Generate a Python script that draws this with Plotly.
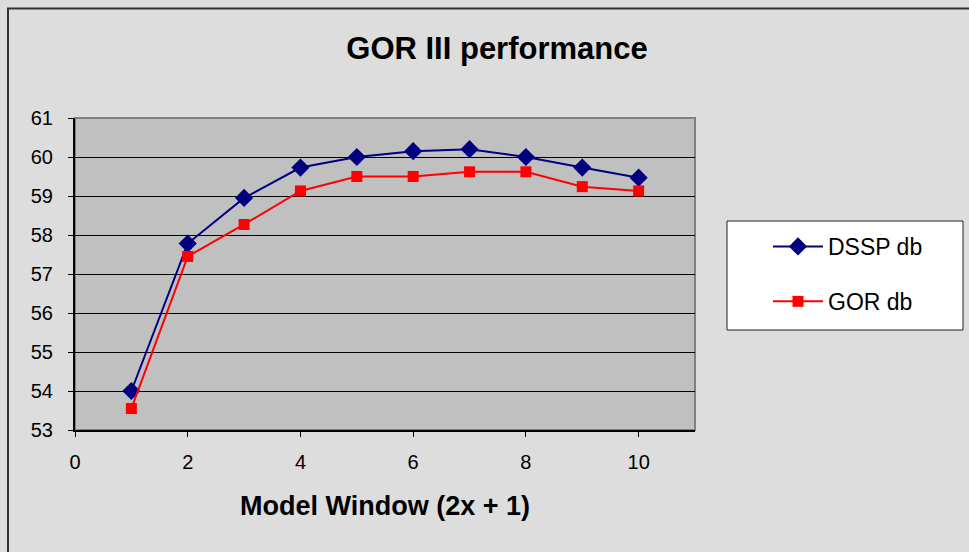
import plotly.graph_objects as go

window = [1, 2, 3, 4, 5, 6, 7, 8, 9, 10]
dssp_db = [54.0, 57.78, 58.95, 59.73, 60.0, 60.15, 60.2, 60.0, 59.73, 59.47]
gor_db = [53.55, 57.45, 58.27, 59.13, 59.5, 59.5, 59.62, 59.62, 59.24, 59.13]
x_ticks = [0, 2, 4, 6, 8, 10]
y_ticks = [53, 54, 55, 56, 57, 58, 59, 60, 61]

FONT = "Liberation Sans, Arial, sans-serif"

fig = go.Figure()
fig.add_trace(go.Scatter(
    x=window, y=dssp_db, name="DSSP db", mode="lines+markers",
    line=dict(color="#000080", width=2),
    marker=dict(symbol="diamond", size=14, color="#000080"),
    legendgroup="a",
))
fig.add_trace(go.Scatter(
    x=window, y=gor_db, name="GOR db", mode="lines+markers",
    line=dict(color="#ff0000", width=2),
    marker=dict(symbol="square", size=11, color="#ff0000"),
    legendgroup="b",
))

L, R, T, B = 75, 274, 118, 122
W, H = 969, 552
pw, ph = W - L - R, H - T - B

def px2x(px):
    return (px - L) / pw

def py2y(py):
    return (H - B - py) / ph

fig.update_layout(
    width=W, height=H,
    margin=dict(l=L, r=R, t=T, b=B, pad=0),
    paper_bgcolor="#dddddd",
    plot_bgcolor="#c0c0c0",
    font=dict(family=FONT, color="black", size=20),
    title=dict(text="<b>GOR III performance</b>", x=497 / W, xanchor="center",
               xref="container",
               y=1 - 48 / H, yref="container", yanchor="middle",
               font=dict(size=31, family=FONT, color="black")),
    showlegend=True,
    legend=dict(
        x=px2x(768), y=py2y(225), xanchor="left", yanchor="top",
        bgcolor="rgba(0,0,0,0)", borderwidth=0,
        font=dict(size=23, family=FONT, color="black"),
        traceorder="grouped", tracegroupgap=22,
        itemwidth=50,
    ),
    xaxis=dict(
        range=[0, 11], tickvals=x_ticks, ticktext=[str(v) for v in x_ticks],
        showgrid=False, zeroline=False,
        showline=True, linecolor="black", linewidth=2,
        ticks="outside", ticklen=5, tickcolor="black", tickwidth=1,
        ticklabelstandoff=8,
        tickfont=dict(size=20, family=FONT, color="black"),
        title=dict(text="<b>Model Window (2x + 1)</b>", standoff=24,
                   font=dict(size=27, family=FONT, color="black")),
    ),
    yaxis=dict(
        range=[53, 61], tickvals=y_ticks, ticktext=[str(v) for v in y_ticks],
        showgrid=True, gridcolor="black", gridwidth=1,
        zeroline=False,
        showline=True, linecolor="black", linewidth=2,
        ticks="outside", ticklen=5, tickcolor="black", tickwidth=1,
        ticklabelstandoff=11,
        tickfont=dict(size=20, family=FONT, color="black"),
    ),
    shapes=[
        dict(type="rect", xref="paper", yref="paper", x0=0, x1=1, y0=0, y1=1,
             line=dict(color="#808080", width=2), layer="below"),
        dict(type="rect", xref="paper", yref="paper",
             x0=px2x(727), x1=px2x(963), y0=py2y(330), y1=py2y(221),
             line=dict(color="#222222", width=1), fillcolor="white", layer="below"),
        dict(type="rect", xref="paper", yref="paper",
             x0=px2x(8), x1=px2x(990), y0=py2y(580), y1=py2y(8.5),
             line=dict(color="#333333", width=2), layer="below"),
    ],
)

fig.write_html("out.html")
